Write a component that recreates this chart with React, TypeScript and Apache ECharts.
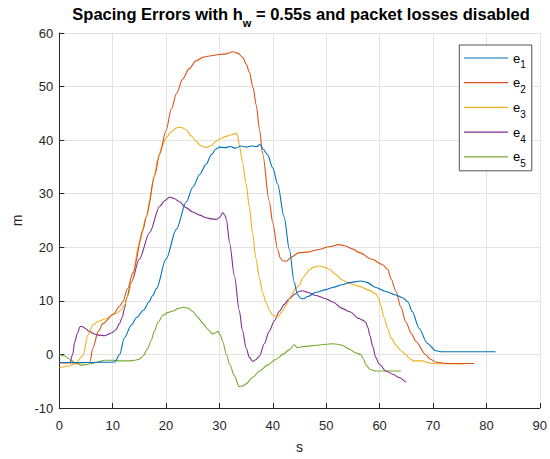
import React, { useEffect, useRef } from "react";
import * as echarts from "echarts";

const seriesNames = ["e1", "e2", "e3", "e4", "e5"];
const colors = ["#0072BD", "#D95319", "#EDB120", "#7E2F8E", "#77AC30"];

const xTicks = { min: 0, max: 90, step: 10 };
const yTicks = { min: -10, max: 60, step: 10 };

const e1: number[][] = [
  [0, -1.5], [5, -1.5], [10.4, -1.4], [11.3, 0], [12.2, 3.1], [13.5, 5.5], [14.5, 6.9], [15.8, 8.3],
  [16.8, 9.8], [17.5, 11], [18.2, 12.3], [20, 17.8], [21.9, 23.3], [23.8, 28.5], [25, 31.2], [26.3, 33.6],
  [27.5, 35.5], [28.5, 37.3], [29.3, 38.3], [30, 38.7], [31, 38.6], [32, 38.8], [33, 38.5], [34, 38.9],
  [35, 38.7], [36, 38.9], [37, 38.8], [37.6, 39.2], [38.2, 38.3], [39, 37.3], [40, 34.8], [40.9, 31.8],
  [42.1, 25.7], [43.1, 19.6], [44, 13.5], [44.6, 11.2], [45.2, 10.5], [45.8, 10.4], [46.5, 10.8],
  [48.1, 11.6], [50, 12.1], [51.2, 12.5], [53, 13], [54.3, 13.4], [56.5, 13.7], [57.5, 13.5],
  [59.3, 12.5], [61, 11.8], [63, 11.1], [64.5, 10.5], [65.3, 9.8], [66.1, 8], [67.4, 4.9],
  [68.9, 2.1], [70.5, 0.7], [71.7, 0.5], [81.7, 0.5],
];

const e2: number[][] = [
  [0, -1.6], [3, -1.6], [5.7, -1.5], [6.3, 1.2], [7.3, 4.3], [8.2, 5.8], [10.1, 7.5], [11.3, 9],
  [11.9, 9.8], [12.8, 12.3], [13.8, 15.3], [15.7, 23.3], [16.3, 25.7], [17.9, 33.5], [18.8, 37.4],
  [20, 41.8], [21, 45.9], [22, 48.8], [23.1, 51.4], [24.3, 53.3], [25.6, 54.8], [27, 55.5],
  [28.1, 55.7], [30, 56], [31.3, 56.1], [32.5, 56.5], [33.5, 56.2], [34.4, 55.4], [35, 54.2],
  [35.6, 52.7], [36.3, 49.8], [36.9, 46.5], [37.5, 42], [38.1, 37.4], [39.3, 28.7], [40, 24.5],
  [40.9, 19.6], [41.4, 18], [41.8, 17.5], [42.5, 17.4], [43.5, 18.2], [44.9, 19], [46.5, 19.1],
  [48.7, 19.6], [50.5, 20.1], [52.4, 20.5], [53.5, 20.3], [54.9, 19.7], [56.2, 19], [58.5, 17.8],
  [60.5, 16.8], [61.5, 15.9], [62.2, 14], [63, 11.9], [64, 8.8], [64.9, 6.1], [66, 3.8], [66.8, 2.4],
  [68.6, 0], [69.5, -0.9], [70.5, -1.4], [72.4, -1.7], [77.7, -1.7],
];

const e3: number[][] = [
  [0, -2.5], [1.5, -2.2], [2.9, -1.8], [4.4, -0.3], [5.4, 3.7], [6.3, 5.5], [7.3, 6.2], [8.5, 6.6],
  [10.7, 7.7], [11.5, 8.2], [12.2, 9.2], [12.9, 11], [13.5, 13.5], [15, 20.8], [16.3, 25.7],
  [16.9, 28.5], [17.7, 33], [18.5, 36.7], [19.3, 39], [20, 40.4], [21, 41.6], [22, 42.3], [22.8, 42.4],
  [23.8, 41.9], [24.7, 40.8], [25.6, 39.8], [26.5, 39], [27.5, 38.6], [28.5, 39], [29.4, 39.8],
  [30, 40.2], [31.3, 40.7], [32.2, 41], [33.1, 41.3], [33.4, 40.8], [33.7, 39.2], [34.3, 36],
  [35, 31.8], [35.6, 27.5], [36.2, 22.7], [36.8, 18], [37.5, 14.2], [38.1, 11.5], [38.7, 9.8],
  [39.3, 8.3], [40, 7.3], [40.9, 7], [41.6, 7.8], [42.5, 9.2], [43.4, 10.9], [44.3, 12.3], [45, 13],
  [45.6, 14.3], [46.2, 15], [46.8, 15.8], [47.7, 16.3], [48.7, 16.5], [49.6, 16.3], [50.6, 15.9],
  [51.8, 14.9], [53, 13.9], [54.5, 13.2], [56.2, 12.7], [58, 12], [59.3, 11.3], [59.8, 10.5],
  [60.2, 9.2], [60.8, 7], [61.5, 4.9], [62.2, 3], [63, 1.8], [64, 0.7], [64.9, 0], [65.6, -0.8],
  [66.4, -1.2], [68, -1.2], [69, -1.5], [69.9, -1.7], [75.8, -1.8],
];

const e4: number[][] = [
  [0, -1.5], [2, -1.5], [2.5, 0], [2.9, 2.4], [3.4, 4], [3.9, 5.2], [4.3, 5.2], [4.8, 4.9], [5.6, 4.3],
  [6.6, 3.8], [7.5, 3.6], [8.5, 3.5], [9.8, 4], [10.6, 4.6], [11.3, 5.8], [11.8, 7], [12.2, 8.5],
  [12.6, 10.5], [13.5, 13.5], [15, 17.8], [16.9, 22.7], [18.8, 27.6], [19.7, 28.7], [20.7, 29.4],
  [21.5, 29.1], [22.5, 28.5], [23.7, 27.4], [25, 26.6], [26.3, 26], [27.5, 25.5], [28.5, 25.3],
  [29.4, 25.2], [30.1, 25.6], [30.6, 26.5], [31, 26], [31.3, 25.2], [31.9, 20.8], [32.8, 14.7],
  [33.7, 8.3], [34.3, 4.5], [35, 1.2], [35.6, -0.5], [36.2, -1.3], [36.8, -1], [37.5, -0.3],
  [38.4, 2], [39.3, 4.3], [40.3, 6.3], [41.2, 8], [42.1, 9.3], [43.1, 10.4], [44, 11.2], [45, 11.8],
  [45.6, 11.9], [46.5, 11.6], [48.1, 11], [49.9, 10.4], [51.2, 9.8], [53, 8.6], [54.3, 8], [56.2, 6.7],
  [56.8, 6.4], [57.4, 6], [57.8, 5], [58.2, 3.5], [58.7, 1.5], [59.3, -0.6], [59.9, -1.8],
  [61.2, -3.1], [62.5, -3.7], [63.6, -4.3], [64.9, -5.2],
];

const e5: number[][] = [
  [0, 0], [1, -0.3], [1.7, -0.7], [2.3, -1.2], [3.2, -1.7], [4.1, -2], [5, -1.9], [6, -1.7],
  [7.2, -1.4], [8.5, -1.1], [10, -1.1], [11.6, -1.2], [13, -1.2], [14.1, -1.1], [15, -0.9],
  [15.7, -0.3], [16.5, 1], [17.2, 2.6], [17.8, 4.3], [18.5, 6], [19.4, 7.3], [20.3, 7.8], [21.3, 8.1],
  [22.3, 8.6], [23.3, 8.8], [24.2, 8.6], [25, 8], [25.9, 7], [26.9, 5.8], [27.8, 4.7], [28.7, 3.8],
  [29.2, 4], [29.7, 4.3], [30.2, 3.6], [30.6, 2.4], [31.3, 0], [31.9, -1.8], [32.8, -4], [33.7, -6],
  [34.3, -5.9], [35, -5.5], [36.2, -4.3], [37.5, -3.1], [39, -2], [40.6, -0.9], [42, 0.1], [43.1, 0.9],
  [44, 1.8], [44.6, 1.3], [46, 1.5], [48.1, 1.7], [50, 1.9], [51.2, 2], [52.2, 1.9], [53, 1.7],
  [54.3, 1], [55.5, 0.3], [56.5, 0], [57, -0.9], [57.4, -1.9], [58.2, -2.8], [59.3, -3.1], [64, -3.1],
];

const seriesData = [e1, e2, e3, e4, e5];

const FONT = "'Liberation Sans', Arial, Helvetica, sans-serif";
const AXIS_COLOR = "#262626";
const GRID_COLOR = "#e3e3e3";

export default function App() {
  const ref = useRef<HTMLDivElement>(null);

  useEffect(() => {
    if (!ref.current) return;
    const chart = echarts.init(ref.current, undefined, { renderer: "svg" });
    const axisCommon = {
      type: "value" as const,
      axisLine: { show: true, onZero: false, lineStyle: { color: AXIS_COLOR, width: 1 } },
      axisTick: { show: true, inside: true, length: 5, lineStyle: { color: AXIS_COLOR, width: 1 } },
      splitLine: { show: true, lineStyle: { color: GRID_COLOR, width: 1 } },
      nameLocation: "middle" as const,
      nameTextStyle: { color: AXIS_COLOR, fontSize: 14, fontFamily: FONT },
    };
    chart.setOption({
      animation: false,
      backgroundColor: "#ffffff",
      title: {
        text: "{b|Spacing Errors with h}{s|w}{b| = 0.55s and packet losses disabled}",
        left: 301,
        top: 0,
        padding: 0,
        textAlign: "center",
        textStyle: {
          fontFamily: FONT,
          rich: {
            b: { fontSize: 16.5, fontWeight: "bold", color: "#000", lineHeight: 28, fontFamily: FONT },
            s: { fontSize: 11, fontWeight: "bold", color: "#000", lineHeight: 12, verticalAlign: "bottom", fontFamily: FONT },
          },
        },
      },
      grid: { left: 59.3, right: 9.3, top: 33, bottom: 45.6, containLabel: false },
      xAxis: {
        ...axisCommon,
        min: xTicks.min,
        max: xTicks.max,
        interval: xTicks.step,
        name: "s",
        nameGap: 32,
        axisLabel: { color: AXIS_COLOR, fontSize: 13, margin: 10.5, fontFamily: FONT },
      },
      yAxis: {
        ...axisCommon,
        min: yTicks.min,
        max: yTicks.max,
        interval: yTicks.step,
        name: "m",
        nameGap: 34.5,
        axisLabel: { color: AXIS_COLOR, fontSize: 13, margin: 6, fontFamily: FONT },
      },
      legend: {
        orient: "vertical",
        left: 459.3,
        top: 45,
        padding: [6.5, 6, 2, 4.7],
        itemGap: 6.2,
        icon: "rect",
        itemWidth: 44,
        itemHeight: 1.2,
        itemTextGap: 3,
        borderColor: AXIS_COLOR,
        borderWidth: 0.8,
        backgroundColor: "#ffffff",
        data: seriesNames,
        formatter: (name: string) => `{b|e}{s|${name.slice(1)}}`,
        textStyle: {
          fontFamily: FONT,
          rich: {
            b: { fontSize: 13, color: "#000", lineHeight: 24, fontFamily: FONT },
            s: { fontSize: 10, color: "#000", lineHeight: 12, verticalAlign: "bottom", fontFamily: FONT },
          },
        },
      },
      series: seriesNames.map((name, i) => ({
        name,
        type: "line",
        data: seriesData[i],
        symbol: "none",
        showSymbol: false,
        smooth: 0.3,
        smoothMonotone: "x",
        color: colors[i],
        lineStyle: { color: colors[i], width: 1.1 },
        z: 10 - i,
      })),
    });
    return () => chart.dispose();
  }, []);

  return (
    <div
      ref={ref}
      style={{ position: "fixed", left: 0, top: 0, width: 550, height: 459, background: "#fff" }}
    />
  );
}
